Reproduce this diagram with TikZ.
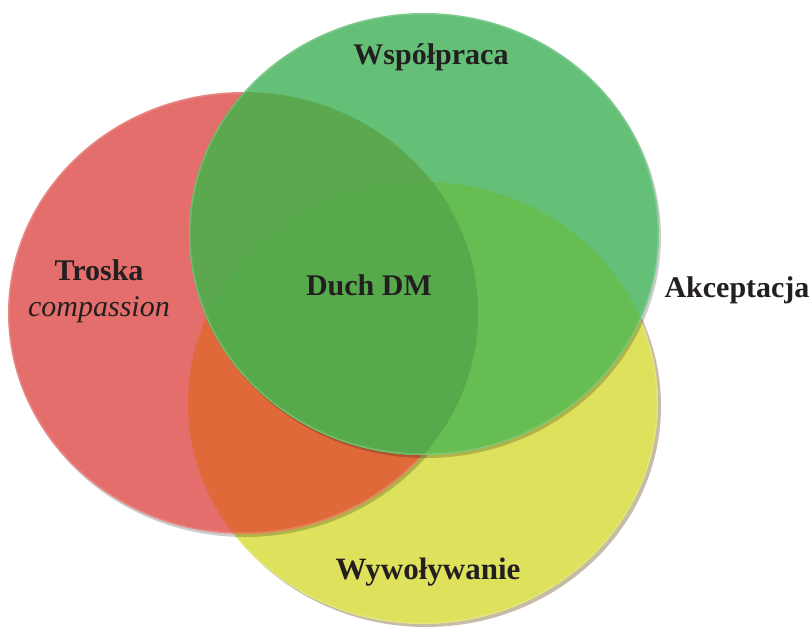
\documentclass[tikz,border=0pt]{standalone}
\usepackage{fontspec}
\setmainfont{Liberation Serif}
\begin{document}
\begin{tikzpicture}[x=1pt,y=-1pt,
  lbl/.style={text=labeltext,font=\fontsize{30}{34}\selectfont\bfseries,inner sep=0pt,align=center},
  shade ring/.style={black,opacity=0.2},
  rim/.style={draw=white,draw opacity=0.18,line width=3pt}]
\definecolor{labeltext}{HTML}{231F20}
\definecolor{cRed}{HTML}{E46E6B}
\definecolor{cGreen}{HTML}{64BF77}
\definecolor{cYellow}{HTML}{DDE15B}
\definecolor{cRY}{HTML}{E0693A}
\definecolor{cGY}{HTML}{66BD51}
\definecolor{cGR}{HTML}{5CA84F}
\definecolor{cGRY}{HTML}{57AA4B}
\definecolor{cShadow}{HTML}{C6BCA8}
\useasboundingbox (0,0) rectangle (811,627);
% circle geometry
\def\rx{235}\def\ry{221}
\def\redC{(243,313)}
\def\greenC{(424,234)}
\def\yellowC{(423,403)}
% yellow circle
\fill[cShadow] (426,406) ellipse [x radius=\rx,y radius=\ry];
\fill[cYellow] \yellowC ellipse [x radius=\rx,y radius=\ry];
\begin{scope}
  \clip \yellowC ellipse [x radius=\rx,y radius=\ry];
  \draw[rim] \yellowC ellipse [x radius=\rx,y radius=\ry];
\end{scope}
% red circle
\fill[shade ring] (245,316) ellipse [x radius=\rx,y radius=\ry];
\fill[cRed] \redC ellipse [x radius=\rx,y radius=\ry];
\begin{scope}
  \clip \redC ellipse [x radius=\rx,y radius=\ry];
  \fill[cRY] \yellowC ellipse [x radius=\rx,y radius=\ry];
  \draw[rim] \redC ellipse [x radius=\rx,y radius=\ry];
\end{scope}
% green circle
\fill[shade ring] (426,237) ellipse [x radius=\rx,y radius=\ry];
\fill[cGreen] \greenC ellipse [x radius=\rx,y radius=\ry];
\begin{scope}
  \clip \greenC ellipse [x radius=\rx,y radius=\ry];
  \fill[cGY] \yellowC ellipse [x radius=\rx,y radius=\ry];
  \fill[cGR] \redC ellipse [x radius=\rx,y radius=\ry];
  \begin{scope}
    \clip \redC ellipse [x radius=\rx,y radius=\ry];
    \fill[cGRY] \yellowC ellipse [x radius=\rx,y radius=\ry];
  \end{scope}
  \draw[rim] \greenC ellipse [x radius=\rx,y radius=\ry];
\end{scope}
% labels
\node[lbl] (wsp) at (431,57) {Współpraca};
\node[lbl] (tro) at (99,291) {Troska\\[2pt]{\mdseries\itshape compassion}};
\node[lbl] (duch) at (369,285) {Duch DM};
\node[lbl] (akc) at (737,290) {Akceptacja};
\node[lbl,font=\fontsize{31}{34}\selectfont\bfseries] (wyw) at (428,572) {Wywoływanie};
\end{tikzpicture}
\end{document}
